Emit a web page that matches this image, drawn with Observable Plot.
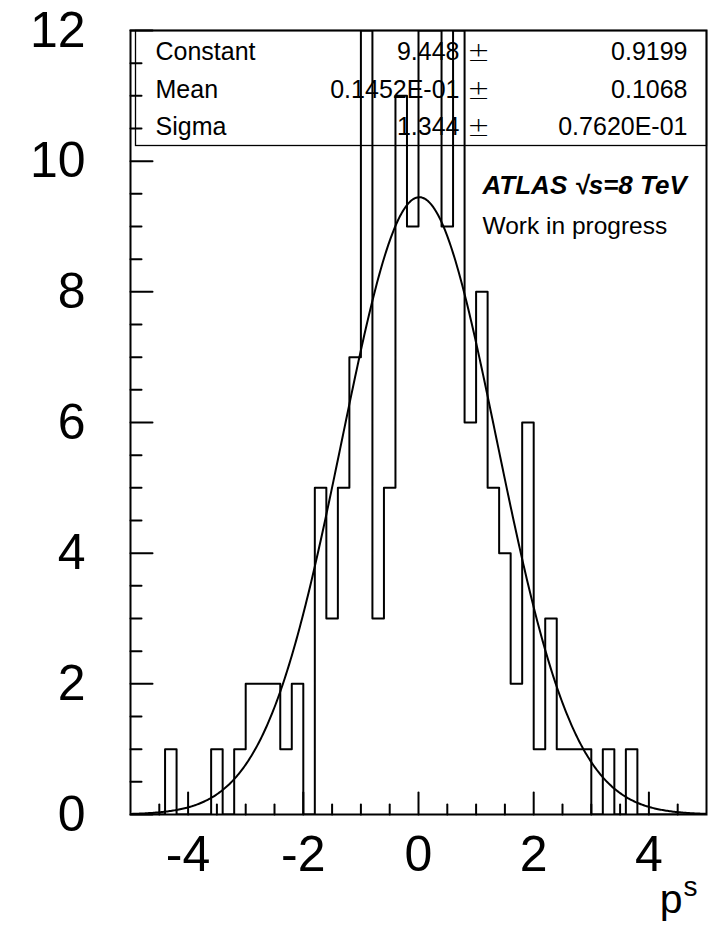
<!DOCTYPE html>
<html><head><meta charset="utf-8">
<script src="https://cdn.jsdelivr.net/npm/d3@7"></script>
<script src="https://cdn.jsdelivr.net/npm/@observablehq/plot@0.6"></script>
<style>
html,body{margin:0;padding:0;background:#fff;}
#chart svg{display:block;}
</style>
</head><body><div id="chart"></div>
<script>
// ---- data ----
const binLow = -5, binWidth = 0.2;
const counts = [0,0,0,1,0,0,0,1,0,1, 2,2,2,1,2,0,5,3,5,7, 12,3,5,11,9,12,12,9,12,6, 8,5,4,2,6,1,3,1,1,1, 0,1,0,1,0,0,0,0,0,0];
const xTickLabels = [-4, -2, 0, 2, 4];
const xMinorTicks = [-4.5, -3.5, -3, -2.5, -1.5, -1, -0.5, 0.5, 1, 1.5, 2.5, 3, 3.5, 4.5];
const yTickLabels = [0, 2, 4, 6, 8, 10, 12];
const yMinorTicks = [0.5, 1, 1.5, 2.5, 3, 3.5, 4.5, 5, 5.5, 6.5, 7, 7.5, 8.5, 9, 9.5, 10.5, 11, 11.5];
const statsNames = ["Constant", "Mean", "Sigma"];
const statsValues = ["9.448", "0.1452E-01", "1.344"];
const statsErrors = ["0.9199", "0.1068", "0.7620E-01"];
const fitConstant = 9.448, fitMean = 0.01452, fitSigma = 1.344;
const xTitle = "p", xTitleSup = "s";
const atlasLabel = "ATLAS \u221As=8 TeV";
const statusLabel = "Work in progress";

// ---- derived tables ----
const steps = counts.map((c, i) => ({x: binLow + i * binWidth, y: c}));
steps.push({x: binLow + counts.length * binWidth, y: counts[counts.length - 1]});
const fitPts = d3.range(0, 501).map(i => {
  const x = -5 + i * 0.02;
  return {x, y: fitConstant * Math.exp(-0.5 * ((x - fitMean) / fitSigma) ** 2)};
});

const tickShape = {draw(ctx, l) { ctx.moveTo(0, 0); ctx.lineTo(0, -l); }};
const font = "'Liberation Sans', Arial, Helvetica, sans-serif";
const rowBase = [29, 67, 104];

const marks = [
  Plot.line(steps, {x: "x", y: "y", curve: "step-after", stroke: "black", strokeWidth: 2, clip: true}),
  Plot.line(fitPts, {x: "x", y: "y", stroke: "black", strokeWidth: 2, clip: true}),
  Plot.frame({stroke: "black", strokeWidth: 2}),
  Plot.frame({stroke: "black", strokeWidth: 1.3, insetLeft: 5, insetBottom: 669}),
  Plot.vector(yTickLabels, {y: d => d, frameAnchor: "left", length: 22, rotate: 90, anchor: "start", shape: tickShape, stroke: "black", strokeWidth: 2, fill: "none"}),
  Plot.vector(yMinorTicks, {y: d => d, frameAnchor: "left", length: 11, rotate: 90, anchor: "start", shape: tickShape, stroke: "black", strokeWidth: 2, fill: "none"}),
  Plot.vector(xTickLabels, {x: d => d, frameAnchor: "bottom", length: 22, rotate: 0, anchor: "start", shape: tickShape, stroke: "black", strokeWidth: 2, fill: "none"}),
  Plot.vector(xMinorTicks, {x: d => d, frameAnchor: "bottom", length: 10, rotate: 0, anchor: "start", shape: tickShape, stroke: "black", strokeWidth: 2, fill: "none"}),
  Plot.axisY(yTickLabels, {tickSize: 0, tickPadding: 45, fontSize: 50, label: null, tickFormat: d => String(d)}),
  Plot.axisX(xTickLabels, {tickSize: 0, tickPadding: 21, fontSize: 50, label: null, tickFormat: d => String(d)}),
  Plot.text([xTitle], {text: d => d, frameAnchor: "bottom-right", textAnchor: "end", lineAnchor: "bottom", dx: -24, dy: 98, fontSize: 41, fill: "black"}),
  Plot.text([xTitleSup], {text: d => d, frameAnchor: "bottom-right", textAnchor: "start", lineAnchor: "bottom", dx: -23, dy: 81, fontSize: 28, fill: "black"}),
  Plot.text([atlasLabel], {text: d => d, frameAnchor: "top-left", textAnchor: "start", lineAnchor: "bottom", dx: 352, dy: 163, fontSize: 26, fontWeight: "bold", fontStyle: "italic", fill: "black"}),
  Plot.text([statusLabel], {text: d => d, frameAnchor: "top-left", textAnchor: "start", lineAnchor: "bottom", dx: 352, dy: 203, fontSize: 24.5, fill: "black"})
];
statsNames.forEach((name, i) => {
  marks.push(Plot.text([name], {text: d => d, frameAnchor: "top-left", textAnchor: "start", lineAnchor: "bottom", dx: 25, dy: rowBase[i], fontSize: 25, fill: "black"}));
  marks.push(Plot.text([statsValues[i]], {text: d => d, frameAnchor: "top-left", textAnchor: "end", lineAnchor: "bottom", dx: 329, dy: rowBase[i], fontSize: 25, fill: "black"}));
  marks.push(Plot.text(["\u00B1"], {text: d => d, frameAnchor: "top-left", textAnchor: "middle", lineAnchor: "bottom", dx: 348, dy: rowBase[i] + 1, fontSize: 27, fontFamily: "'DejaVu Sans', sans-serif", fontWeight: 200, fill: "black"}));
  marks.push(Plot.text([statsErrors[i]], {text: d => d, frameAnchor: "top-right", textAnchor: "end", lineAnchor: "bottom", dx: -19, dy: rowBase[i], fontSize: 25, fill: "black"}));
});

const chart = Plot.plot({
  width: 716,
  height: 927,
  marginLeft: 130,
  marginRight: 10,
  marginTop: 30,
  marginBottom: 113,
  style: {fontFamily: font, color: "black", background: "white", overflow: "visible"},
  x: {domain: [-5, 5], label: null, axis: null},
  y: {domain: [0, 12], label: null, axis: null},
  marks
});
document.getElementById("chart").appendChild(chart);
</script>
</body></html>
